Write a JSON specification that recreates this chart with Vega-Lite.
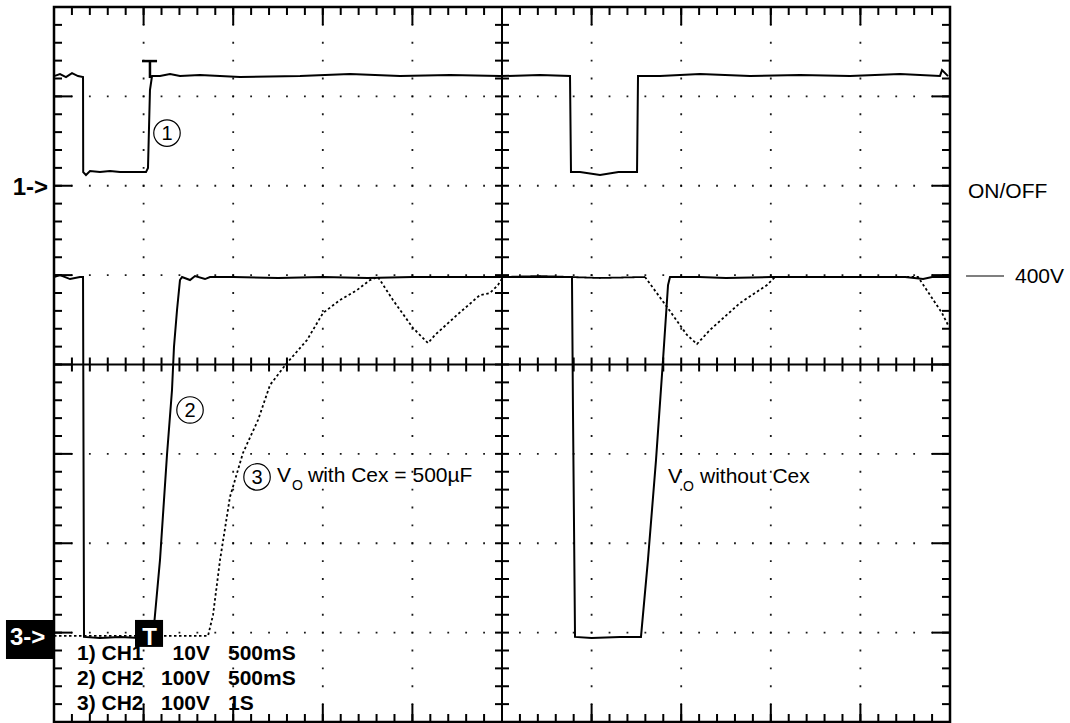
{
  "$schema": "https://vega.github.io/schema/vega-lite/v6.json",
  "width": 896,
  "height": 715,
  "autosize": {"type": "none"},
  "padding": {"left": 54, "top": 7, "right": 120, "bottom": 1},
  "background": "white",
  "config": {
    "view": {"stroke": "#000", "strokeWidth": 2.5},
    "text": {"font": "Liberation Sans", "color": "#000"}
  },
  "datasets": {
    "gx": [{"v": 1}, {"v": 2}, {"v": 3}, {"v": 4}, {"v": 6}, {"v": 7}, {"v": 8}, {"v": 9}],
    "gy": [{"v": -3}, {"v": -2}, {"v": -1}, {"v": 1}, {"v": 2}, {"v": 3}],
    "xMaj": [{"v": 0}, {"v": 1}, {"v": 2}, {"v": 3}, {"v": 4}, {"v": 5}, {"v": 6}, {"v": 7}, {"v": 8}, {"v": 9}, {"v": 10}],
    "xMin": [{"v": 0}, {"v": 0.2}, {"v": 0.4}, {"v": 0.6}, {"v": 0.8}, {"v": 1}, {"v": 1.2}, {"v": 1.4}, {"v": 1.6}, {"v": 1.8}, {"v": 2}, {"v": 2.2}, {"v": 2.4}, {"v": 2.6}, {"v": 2.8}, {"v": 3}, {"v": 3.2}, {"v": 3.4}, {"v": 3.6}, {"v": 3.8}, {"v": 4}, {"v": 4.2}, {"v": 4.4}, {"v": 4.6}, {"v": 4.8}, {"v": 5}, {"v": 5.2}, {"v": 5.4}, {"v": 5.6}, {"v": 5.8}, {"v": 6}, {"v": 6.2}, {"v": 6.4}, {"v": 6.6}, {"v": 6.8}, {"v": 7}, {"v": 7.2}, {"v": 7.4}, {"v": 7.6}, {"v": 7.8}, {"v": 8}, {"v": 8.2}, {"v": 8.4}, {"v": 8.6}, {"v": 8.8}, {"v": 9}, {"v": 9.2}, {"v": 9.4}, {"v": 9.6}, {"v": 9.8}, {"v": 10}],
    "yMaj": [{"v": -4}, {"v": -3}, {"v": -2}, {"v": -1}, {"v": 0}, {"v": 1}, {"v": 2}, {"v": 3}, {"v": 4}],
    "yMin": [{"v": -4}, {"v": -3.8}, {"v": -3.6}, {"v": -3.4}, {"v": -3.2}, {"v": -3}, {"v": -2.8}, {"v": -2.6}, {"v": -2.4}, {"v": -2.2}, {"v": -2}, {"v": -1.8}, {"v": -1.6}, {"v": -1.4}, {"v": -1.2}, {"v": -1}, {"v": -0.8}, {"v": -0.6}, {"v": -0.4}, {"v": -0.2}, {"v": 0}, {"v": 0.2}, {"v": 0.4}, {"v": 0.6}, {"v": 0.8}, {"v": 1}, {"v": 1.2}, {"v": 1.4}, {"v": 1.6}, {"v": 1.8}, {"v": 2}, {"v": 2.2}, {"v": 2.4}, {"v": 2.6}, {"v": 2.8}, {"v": 3}, {"v": 3.2}, {"v": 3.4}, {"v": 3.6}, {"v": 3.8}, {"v": 4}],
    "ch1": [
      {"x": 0, "y": 3.227}, {"x": 0.067, "y": 3.25}, {"x": 0.134, "y": 3.216}, {"x": 0.201, "y": 3.261}, {"x": 0.268, "y": 3.227}, {"x": 0.324, "y": 3.216},
      {"x": 0.326, "y": 2.153}, {"x": 0.357, "y": 2.12}, {"x": 0.402, "y": 2.164}, {"x": 0.513, "y": 2.153}, {"x": 0.625, "y": 2.164}, {"x": 0.737, "y": 2.153}, {"x": 0.848, "y": 2.153}, {"x": 1.027, "y": 2.153}, {"x": 1.049, "y": 2.198},
      {"x": 1.071, "y": 3.07}, {"x": 1.094, "y": 3.227}, {"x": 1.183, "y": 3.227}, {"x": 1.295, "y": 3.25}, {"x": 1.406, "y": 3.227}, {"x": 1.629, "y": 3.238}, {"x": 2.076, "y": 3.216}, {"x": 2.746, "y": 3.227}, {"x": 3.304, "y": 3.25}, {"x": 3.862, "y": 3.227}, {"x": 4.42, "y": 3.238}, {"x": 4.978, "y": 3.227}, {"x": 5.424, "y": 3.238}, {"x": 5.759, "y": 3.227},
      {"x": 5.77, "y": 2.153}, {"x": 5.871, "y": 2.153}, {"x": 6.094, "y": 2.12}, {"x": 6.3, "y": 2.153}, {"x": 6.507, "y": 2.153},
      {"x": 6.518, "y": 3.227}, {"x": 6.763, "y": 3.227}, {"x": 7.21, "y": 3.25}, {"x": 7.768, "y": 3.227}, {"x": 8.326, "y": 3.238}, {"x": 8.884, "y": 3.227}, {"x": 9.442, "y": 3.25}, {"x": 9.888, "y": 3.227}, {"x": 9.911, "y": 3.294}, {"x": 9.978, "y": 3.227}
    ],
    "ch2": [
      {"x": 0, "y": 0.979}, {"x": 0.067, "y": 1.001}, {"x": 0.179, "y": 0.956}, {"x": 0.29, "y": 0.979}, {"x": 0.324, "y": 0.979},
      {"x": 0.335, "y": -3.048}, {"x": 0.513, "y": -3.059}, {"x": 0.737, "y": -3.048}, {"x": 0.96, "y": -3.059}, {"x": 1.105, "y": -3.048},
      {"x": 1.183, "y": -2.187}, {"x": 1.261, "y": -1.012}, {"x": 1.317, "y": -0.285}, {"x": 1.339, "y": 0.196}, {"x": 1.373, "y": 0.61}, {"x": 1.406, "y": 0.945}, {"x": 1.429, "y": 0.979},
      {"x": 1.518, "y": 0.945}, {"x": 1.574, "y": 0.99}, {"x": 1.685, "y": 0.956}, {"x": 1.741, "y": 0.979}, {"x": 2.0, "y": 0.979}, {"x": 2.5, "y": 0.968}, {"x": 3.0, "y": 0.979}, {"x": 3.5, "y": 0.968}, {"x": 4.0, "y": 0.979}, {"x": 4.5, "y": 0.979}, {"x": 5.0, "y": 0.979}, {"x": 5.5, "y": 0.979}, {"x": 5.781, "y": 0.979},
      {"x": 5.792, "y": -0.5}, {"x": 5.815, "y": -3.048}, {"x": 6.0, "y": -3.059}, {"x": 6.317, "y": -3.048}, {"x": 6.551, "y": -3.048},
      {"x": 6.629, "y": -2.187}, {"x": 6.719, "y": -1.068}, {"x": 6.797, "y": 0.05}, {"x": 6.853, "y": 0.889}, {"x": 6.875, "y": 0.979},
      {"x": 7.2, "y": 0.979}, {"x": 7.5, "y": 0.968}, {"x": 8.0, "y": 0.979}, {"x": 8.5, "y": 0.979}, {"x": 9.0, "y": 0.979}, {"x": 9.5, "y": 0.979}, {"x": 9.7, "y": 0.956}, {"x": 9.8, "y": 0.979}, {"x": 10, "y": 0.979}
    ],
    "ch3": [
      {"g": 1, "s": "dot", "x": 0, "y": -3.037}, {"g": 1, "s": "dot", "x": 0.346, "y": -3.037}, {"g": 1, "s": "dot", "x": 0.737, "y": -3.037}, {"g": 1, "s": "dot", "x": 1.071, "y": -3.037}, {"g": 1, "s": "dot", "x": 1.406, "y": -3.037}, {"g": 1, "s": "dot", "x": 1.719, "y": -3.037},
      {"g": 1, "s": "dot", "x": 1.775, "y": -2.802}, {"g": 1, "s": "dot", "x": 1.853, "y": -2.187}, {"g": 1, "s": "dot", "x": 1.964, "y": -1.482}, {"g": 1, "s": "dot", "x": 2.109, "y": -0.99}, {"g": 1, "s": "dot", "x": 2.277, "y": -0.621}, {"g": 1, "s": "dot", "x": 2.411, "y": -0.229}, {"g": 1, "s": "dot", "x": 2.6, "y": 0.017}, {"g": 1, "s": "dot", "x": 2.824, "y": 0.274}, {"g": 1, "s": "dot", "x": 3.002, "y": 0.576}, {"g": 1, "s": "dot", "x": 3.192, "y": 0.721}, {"g": 1, "s": "dot", "x": 3.382, "y": 0.833}, {"g": 1, "s": "dot", "x": 3.527, "y": 0.945}, {"g": 1, "s": "dot", "x": 3.616, "y": 0.979},
      {"g": 1, "s": "dot", "x": 3.783, "y": 0.721}, {"g": 1, "s": "dot", "x": 4.007, "y": 0.408}, {"g": 1, "s": "dot", "x": 4.174, "y": 0.24}, {"g": 1, "s": "dot", "x": 4.252, "y": 0.33}, {"g": 1, "s": "dot", "x": 4.498, "y": 0.554}, {"g": 1, "s": "dot", "x": 4.754, "y": 0.777}, {"g": 1, "s": "dot", "x": 4.866, "y": 0.8}, {"g": 1, "s": "dot", "x": 4.955, "y": 0.889}, {"g": 1, "s": "dot", "x": 5.011, "y": 0.979},
      {"g": 2, "s": "solid", "x": 5.011, "y": 0.979}, {"g": 2, "s": "solid", "x": 5.424, "y": 0.99}, {"g": 2, "s": "solid", "x": 6.094, "y": 0.968}, {"g": 2, "s": "solid", "x": 6.596, "y": 0.979},
      {"g": 3, "s": "dot", "x": 6.596, "y": 0.979}, {"g": 3, "s": "dot", "x": 6.842, "y": 0.643}, {"g": 3, "s": "dot", "x": 7.065, "y": 0.33}, {"g": 3, "s": "dot", "x": 7.176, "y": 0.229}, {"g": 3, "s": "dot", "x": 7.321, "y": 0.386}, {"g": 3, "s": "dot", "x": 7.656, "y": 0.688}, {"g": 3, "s": "dot", "x": 7.958, "y": 0.889}, {"g": 3, "s": "dot", "x": 8.047, "y": 0.979},
      {"g": 3, "s": "dot", "x": 8.326, "y": 0.979}, {"g": 3, "s": "dot", "x": 8.884, "y": 0.979}, {"g": 3, "s": "dot", "x": 9.643, "y": 0.979}, {"g": 3, "s": "dot", "x": 9.911, "y": 0.576}, {"g": 3, "s": "dot", "x": 9.978, "y": 0.442}
    ],
    "notes": [
      {"x": 10.201, "y": 1.862, "t": "ON/OFF"},
      {"x": 10.725, "y": 0.912, "t": "400V"},
      {"x": 2.489, "y": -1.314, "t": "V"},
      {"x": 2.835, "y": -1.314, "t": "with Cex = 500µF"},
      {"x": 6.853, "y": -1.326, "t": "V"},
      {"x": 7.21, "y": -1.326, "t": "without Cex"}
    ],
    "subs": [
      {"x": 2.656, "y": -1.404, "t": "O"},
      {"x": 7.02, "y": -1.415, "t": "O"}
    ],
    "circles": [
      {"x": 1.261, "y": 2.589, "t": "1"},
      {"x": 1.518, "y": -0.509, "t": "2"},
      {"x": 2.266, "y": -1.258, "t": "3"}
    ],
    "setLeft": [
      {"x": 0.257, "y": -3.305, "t": "1) CH1"},
      {"x": 0.257, "y": -3.585, "t": "2) CH2"},
      {"x": 0.257, "y": -3.865, "t": "3) CH2"},
      {"x": 1.942, "y": -3.305, "t": "500mS"},
      {"x": 1.942, "y": -3.585, "t": "500mS"},
      {"x": 1.942, "y": -3.865, "t": "1S"}
    ],
    "setRight": [
      {"x": 1.741, "y": -3.305, "t": "10V"},
      {"x": 1.741, "y": -3.585, "t": "100V"},
      {"x": 1.741, "y": -3.865, "t": "100V"}
    ],
    "boxes": [
      {"x": -0.536, "x2": 0, "y": -2.858, "y2": -3.294},
      {"x": 0.904, "x2": 1.217, "y": -2.858, "y2": -3.16}
    ],
    "boxText": [
      {"x": -0.491, "y": -3.138, "t": "3->"},
      {"x": 0.985, "y": -3.138, "t": "T"}
    ],
    "tmark": [
      {"x": 0.982, "x2": 1.15, "y": 3.395, "y2": 3.395},
      {"x": 1.071, "x2": 1.071, "y": 3.395, "y2": 3.205}
    ],
    "legline": [
      {"x": 10.179, "x2": 10.603, "y": 0.99, "y2": 0.99}
    ]
  },
  "layer": [
    {"data": {"name": "gx"}, "mark": {"type": "rule", "stroke": "#000", "strokeWidth": 1.8, "opacity": 0.9, "strokeDash": [1.8, 16.075], "strokeDashOffset": 0.9},
     "encoding": {"x": {"field": "v", "type": "quantitative", "scale": {"domain": [0, 10], "nice": false, "zero": false}, "axis": null},
                  "y": {"datum": -4, "type": "quantitative", "scale": {"domain": [-4, 4], "nice": false, "zero": false}, "axis": null}, "y2": {"datum": 4}}},
    {"data": {"name": "gy"}, "mark": {"type": "rule", "stroke": "#000", "strokeWidth": 1.8, "opacity": 0.9, "strokeDash": [1.8, 16.12], "strokeDashOffset": 0.9},
     "encoding": {"y": {"field": "v", "type": "quantitative", "scale": {"domain": [-4, 4], "nice": false, "zero": false}, "axis": null},
                  "x": {"datum": 0, "type": "quantitative", "scale": {"domain": [0, 10], "nice": false, "zero": false}, "axis": null}, "x2": {"datum": 10}}},
    {"data": {"values": [{"k": 1}]}, "mark": {"type": "rule", "stroke": "#000", "strokeWidth": 2},
     "encoding": {"x": {"datum": 5, "type": "quantitative", "scale": {"domain": [0, 10], "nice": false, "zero": false}, "axis": null},
                  "y": {"datum": -4, "type": "quantitative", "scale": {"domain": [-4, 4], "nice": false, "zero": false}, "axis": null}, "y2": {"datum": 4}}},
    {"data": {"values": [{"k": 1}]}, "mark": {"type": "rule", "stroke": "#000", "strokeWidth": 2},
     "encoding": {"y": {"datum": 0, "type": "quantitative", "scale": {"domain": [-4, 4], "nice": false, "zero": false}, "axis": null},
                  "x": {"datum": 0, "type": "quantitative", "scale": {"domain": [0, 10], "nice": false, "zero": false}, "axis": null}, "x2": {"datum": 10}}},
    {"data": {"name": "xMin"}, "mark": {"type": "rule", "stroke": "#000", "strokeWidth": 2}, "encoding": {"x": {"field": "v", "type": "quantitative", "scale": {"domain": [0, 10], "nice": false, "zero": false}, "axis": null}, "y": {"datum": -0.0783, "type": "quantitative", "scale": {"domain": [-4, 4], "nice": false, "zero": false}, "axis": null}, "y2": {"datum": 0.0783}}},
    {"data": {"name": "yMin"}, "mark": {"type": "rule", "stroke": "#000", "strokeWidth": 2}, "encoding": {"y": {"field": "v", "type": "quantitative", "scale": {"domain": [-4, 4], "nice": false, "zero": false}, "axis": null}, "x": {"datum": 4.9219, "type": "quantitative", "scale": {"domain": [0, 10], "nice": false, "zero": false}, "axis": null}, "x2": {"datum": 5.0781}}},
    {"data": {"name": "xMin"}, "mark": {"type": "rule", "stroke": "#000", "strokeWidth": 2}, "encoding": {"x": {"field": "v", "type": "quantitative", "scale": {"domain": [0, 10], "nice": false, "zero": false}, "axis": null}, "y": {"datum": -4, "type": "quantitative", "scale": {"domain": [-4, 4], "nice": false, "zero": false}, "axis": null}, "y2": {"datum": -3.9105}}},
    {"data": {"name": "xMin"}, "mark": {"type": "rule", "stroke": "#000", "strokeWidth": 2}, "encoding": {"x": {"field": "v", "type": "quantitative", "scale": {"domain": [0, 10], "nice": false, "zero": false}, "axis": null}, "y": {"datum": 4, "type": "quantitative", "scale": {"domain": [-4, 4], "nice": false, "zero": false}, "axis": null}, "y2": {"datum": 3.9105}}},
    {"data": {"name": "xMaj"}, "mark": {"type": "rule", "stroke": "#000", "strokeWidth": 2}, "encoding": {"x": {"field": "v", "type": "quantitative", "scale": {"domain": [0, 10], "nice": false, "zero": false}, "axis": null}, "y": {"datum": -4, "type": "quantitative", "scale": {"domain": [-4, 4], "nice": false, "zero": false}, "axis": null}, "y2": {"datum": -3.7987}}},
    {"data": {"name": "xMaj"}, "mark": {"type": "rule", "stroke": "#000", "strokeWidth": 2}, "encoding": {"x": {"field": "v", "type": "quantitative", "scale": {"domain": [0, 10], "nice": false, "zero": false}, "axis": null}, "y": {"datum": 4, "type": "quantitative", "scale": {"domain": [-4, 4], "nice": false, "zero": false}, "axis": null}, "y2": {"datum": 3.7987}}},
    {"data": {"name": "yMin"}, "mark": {"type": "rule", "stroke": "#000", "strokeWidth": 2}, "encoding": {"y": {"field": "v", "type": "quantitative", "scale": {"domain": [-4, 4], "nice": false, "zero": false}, "axis": null}, "x": {"datum": 0, "type": "quantitative", "scale": {"domain": [0, 10], "nice": false, "zero": false}, "axis": null}, "x2": {"datum": 0.0893}}},
    {"data": {"name": "yMin"}, "mark": {"type": "rule", "stroke": "#000", "strokeWidth": 2}, "encoding": {"y": {"field": "v", "type": "quantitative", "scale": {"domain": [-4, 4], "nice": false, "zero": false}, "axis": null}, "x": {"datum": 10, "type": "quantitative", "scale": {"domain": [0, 10], "nice": false, "zero": false}, "axis": null}, "x2": {"datum": 9.9107}}},
    {"data": {"name": "yMaj"}, "mark": {"type": "rule", "stroke": "#000", "strokeWidth": 2}, "encoding": {"y": {"field": "v", "type": "quantitative", "scale": {"domain": [-4, 4], "nice": false, "zero": false}, "axis": null}, "x": {"datum": 0, "type": "quantitative", "scale": {"domain": [0, 10], "nice": false, "zero": false}, "axis": null}, "x2": {"datum": 0.2009}}},
    {"data": {"name": "yMaj"}, "mark": {"type": "rule", "stroke": "#000", "strokeWidth": 2}, "encoding": {"y": {"field": "v", "type": "quantitative", "scale": {"domain": [-4, 4], "nice": false, "zero": false}, "axis": null}, "x": {"datum": 10, "type": "quantitative", "scale": {"domain": [0, 10], "nice": false, "zero": false}, "axis": null}, "x2": {"datum": 9.7991}}},
    {
      "data": {"name": "ch1"},
      "mark": {"type": "line", "color": "#000", "strokeWidth": 2},
      "encoding": {
        "x": {"field": "x", "type": "quantitative", "scale": {"domain": [0, 10], "nice": false, "zero": false}, "axis": null},
        "y": {"field": "y", "type": "quantitative", "scale": {"domain": [-4, 4], "nice": false, "zero": false}, "axis": null},
        "order": {"value": null}
      }
    },
    {
      "data": {"name": "ch2"},
      "mark": {"type": "line", "color": "#000", "strokeWidth": 2},
      "encoding": {
        "x": {"field": "x", "type": "quantitative", "scale": {"domain": [0, 10], "nice": false, "zero": false}, "axis": null},
        "y": {"field": "y", "type": "quantitative", "scale": {"domain": [-4, 4], "nice": false, "zero": false}, "axis": null},
        "order": {"value": null}
      }
    },
    {
      "data": {"name": "ch3"},
      "mark": {"type": "line", "color": "#000", "strokeWidth": 1.8},
      "encoding": {
        "x": {"field": "x", "type": "quantitative", "scale": {"domain": [0, 10], "nice": false, "zero": false}, "axis": null},
        "y": {"field": "y", "type": "quantitative", "scale": {"domain": [-4, 4], "nice": false, "zero": false}, "axis": null},
        "detail": {"field": "g", "type": "nominal"},
        "strokeDash": {"field": "s", "type": "nominal", "scale": {"domain": ["dot", "solid"], "range": [[2.5, 2.5], [1, 0]]}, "legend": null},
        "order": {"value": null}
      }
    },
    {
      "data": {"name": "tmark"},
      "mark": {"type": "rule", "stroke": "#000", "strokeWidth": 2.5},
      "encoding": {
        "x": {"field": "x", "type": "quantitative", "scale": {"domain": [0, 10], "nice": false, "zero": false}, "axis": null},
        "x2": {"field": "x2"},
        "y": {"field": "y", "type": "quantitative", "scale": {"domain": [-4, 4], "nice": false, "zero": false}, "axis": null},
        "y2": {"field": "y2"}
      }
    },
    {
      "data": {"name": "legline"},
      "mark": {"type": "rule", "stroke": "#000", "strokeWidth": 1.2},
      "encoding": {
        "x": {"field": "x", "type": "quantitative", "scale": {"domain": [0, 10], "nice": false, "zero": false}, "axis": null},
        "x2": {"field": "x2"},
        "y": {"field": "y", "type": "quantitative", "scale": {"domain": [-4, 4], "nice": false, "zero": false}, "axis": null},
        "y2": {"field": "y2"}
      }
    },
    {
      "data": {"name": "notes"},
      "mark": {"type": "text", "align": "left", "baseline": "alphabetic", "fontSize": 21},
      "encoding": {
        "x": {"field": "x", "type": "quantitative", "scale": {"domain": [0, 10], "nice": false, "zero": false}, "axis": null},
        "y": {"field": "y", "type": "quantitative", "scale": {"domain": [-4, 4], "nice": false, "zero": false}, "axis": null},
        "text": {"field": "t"}
      }
    },
    {
      "data": {"name": "subs"},
      "mark": {"type": "text", "align": "left", "baseline": "alphabetic", "fontSize": 14},
      "encoding": {
        "x": {"field": "x", "type": "quantitative", "scale": {"domain": [0, 10], "nice": false, "zero": false}, "axis": null},
        "y": {"field": "y", "type": "quantitative", "scale": {"domain": [-4, 4], "nice": false, "zero": false}, "axis": null},
        "text": {"field": "t"}
      }
    },
    {
      "data": {"name": "circles"},
      "mark": {"type": "point", "shape": "circle", "filled": false, "stroke": "#000", "strokeWidth": 1.2, "size": 700, "opacity": 1},
      "encoding": {
        "x": {"field": "x", "type": "quantitative", "scale": {"domain": [0, 10], "nice": false, "zero": false}, "axis": null},
        "y": {"field": "y", "type": "quantitative", "scale": {"domain": [-4, 4], "nice": false, "zero": false}, "axis": null}
      }
    },
    {
      "data": {"name": "circles"},
      "mark": {"type": "text", "align": "center", "baseline": "middle", "fontSize": 20, "dy": 1},
      "encoding": {
        "x": {"field": "x", "type": "quantitative", "scale": {"domain": [0, 10], "nice": false, "zero": false}, "axis": null},
        "y": {"field": "y", "type": "quantitative", "scale": {"domain": [-4, 4], "nice": false, "zero": false}, "axis": null},
        "text": {"field": "t"}
      }
    },
    {
      "data": {"name": "setLeft"},
      "mark": {"type": "text", "align": "left", "baseline": "alphabetic", "fontSize": 21, "fontWeight": "bold"},
      "encoding": {
        "x": {"field": "x", "type": "quantitative", "scale": {"domain": [0, 10], "nice": false, "zero": false}, "axis": null},
        "y": {"field": "y", "type": "quantitative", "scale": {"domain": [-4, 4], "nice": false, "zero": false}, "axis": null},
        "text": {"field": "t"}
      }
    },
    {
      "data": {"name": "setRight"},
      "mark": {"type": "text", "align": "right", "baseline": "alphabetic", "fontSize": 21, "fontWeight": "bold"},
      "encoding": {
        "x": {"field": "x", "type": "quantitative", "scale": {"domain": [0, 10], "nice": false, "zero": false}, "axis": null},
        "y": {"field": "y", "type": "quantitative", "scale": {"domain": [-4, 4], "nice": false, "zero": false}, "axis": null},
        "text": {"field": "t"}
      }
    },
    {
      "data": {"values": [{"x": -0.067, "y": 1.896, "t": "1->"}]},
      "mark": {"type": "text", "align": "right", "baseline": "alphabetic", "fontSize": 24, "fontWeight": "bold"},
      "encoding": {
        "x": {"field": "x", "type": "quantitative", "scale": {"domain": [0, 10], "nice": false, "zero": false}, "axis": null},
        "y": {"field": "y", "type": "quantitative", "scale": {"domain": [-4, 4], "nice": false, "zero": false}, "axis": null},
        "text": {"field": "t"}
      }
    },
    {
      "data": {"name": "boxes"},
      "mark": {"type": "rect", "color": "#000"},
      "encoding": {
        "x": {"field": "x", "type": "quantitative", "scale": {"domain": [0, 10], "nice": false, "zero": false}, "axis": null},
        "x2": {"field": "x2"},
        "y": {"field": "y", "type": "quantitative", "scale": {"domain": [-4, 4], "nice": false, "zero": false}, "axis": null},
        "y2": {"field": "y2"}
      }
    },
    {
      "data": {"name": "boxText"},
      "mark": {"type": "text", "align": "left", "baseline": "alphabetic", "fontSize": 24, "fontWeight": "bold", "color": "#fff"},
      "encoding": {
        "x": {"field": "x", "type": "quantitative", "scale": {"domain": [0, 10], "nice": false, "zero": false}, "axis": null},
        "y": {"field": "y", "type": "quantitative", "scale": {"domain": [-4, 4], "nice": false, "zero": false}, "axis": null},
        "text": {"field": "t"}
      }
    }
  ]
}
